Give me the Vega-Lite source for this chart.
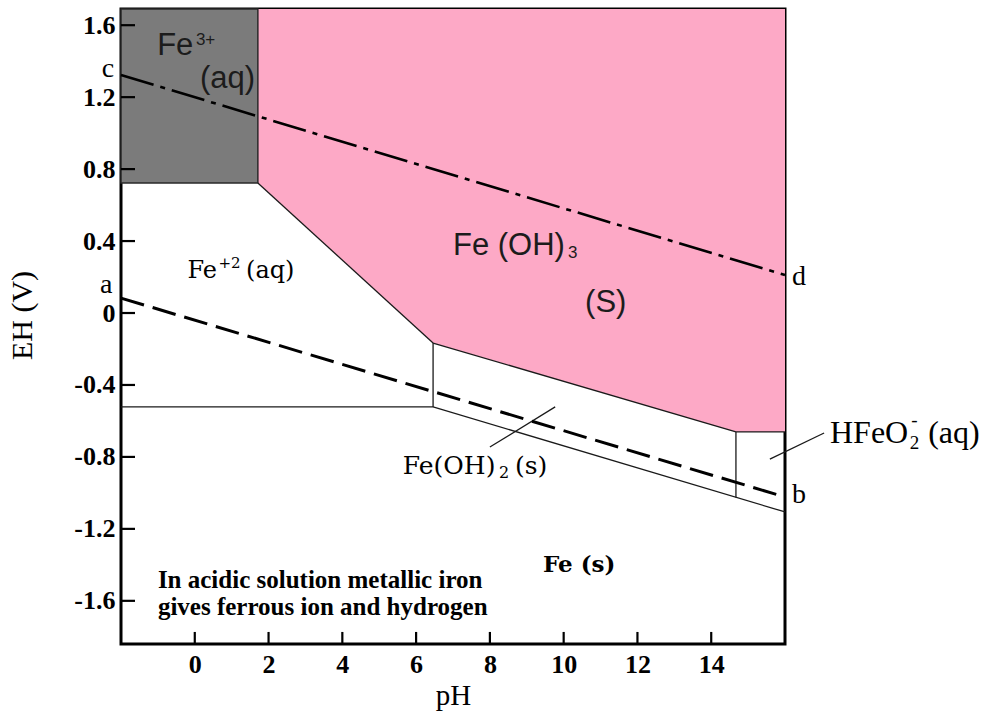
{
  "$schema": "https://vega.github.io/schema/vega-lite/v6.json",
  "width": 664,
  "height": 635,
  "autosize": {"type": "none"},
  "padding": {"left": 121, "top": 9, "right": 199, "bottom": 72},
  "background": "white",
  "config": {
    "view": {"stroke": "black", "strokeWidth": 3},
    "axis": {"titleColor": "black", "labelColor": "black", "tickColor": "black"}
  },
  "datasets": {
    "feoh3": [
      {"ph": 1.71, "top": 1.69, "bottom": 0.723},
      {"ph": 6.46, "top": 1.69, "bottom": -0.167},
      {"ph": 14.67, "top": 1.69, "bottom": -0.661},
      {"ph": 16, "top": 1.69, "bottom": -0.661}
    ],
    "fe3": [{"ph0": -2, "ph1": 1.71, "e0": 0.723, "e1": 1.69}],
    "boundaries": [
      {"ph0": 1.71, "e0": 0.723, "ph1": 6.46, "e1": -0.167},
      {"ph0": 6.46, "e0": -0.167, "ph1": 14.67, "e1": -0.661},
      {"ph0": 14.67, "e0": -0.661, "ph1": 16, "e1": -0.661},
      {"ph0": -2, "e0": -0.522, "ph1": 6.46, "e1": -0.522},
      {"ph0": 6.46, "e0": -0.167, "ph1": 6.46, "e1": -0.522},
      {"ph0": 6.46, "e0": -0.522, "ph1": 16, "e1": -1.106},
      {"ph0": 14.67, "e0": -0.661, "ph1": 14.67, "e1": -1.025},
      {"ph0": 8.0, "e0": -0.745, "ph1": 9.77, "e1": -0.522},
      {"ph0": 15.59, "e0": -0.812, "ph1": 17.06, "e1": -0.667}
    ],
    "ticks": [
      {"ph0": 0, "ph1": 0, "e0": -1.84, "e1": -1.773},
      {"ph0": 2, "ph1": 2, "e0": -1.84, "e1": -1.773},
      {"ph0": 4, "ph1": 4, "e0": -1.84, "e1": -1.773},
      {"ph0": 6, "ph1": 6, "e0": -1.84, "e1": -1.773},
      {"ph0": 8, "ph1": 8, "e0": -1.84, "e1": -1.773},
      {"ph0": 10, "ph1": 10, "e0": -1.84, "e1": -1.773},
      {"ph0": 12, "ph1": 12, "e0": -1.84, "e1": -1.773},
      {"ph0": 14, "ph1": 14, "e0": -1.84, "e1": -1.773},
      {"ph0": -2, "ph1": -1.62, "e0": 1.6, "e1": 1.6},
      {"ph0": -2, "ph1": -1.62, "e0": 1.2, "e1": 1.2},
      {"ph0": -2, "ph1": -1.62, "e0": 0.8, "e1": 0.8},
      {"ph0": -2, "ph1": -1.62, "e0": 0.4, "e1": 0.4},
      {"ph0": -2, "ph1": -1.62, "e0": 0, "e1": 0},
      {"ph0": -2, "ph1": -1.62, "e0": -0.4, "e1": -0.4},
      {"ph0": -2, "ph1": -1.62, "e0": -0.8, "e1": -0.8},
      {"ph0": -2, "ph1": -1.62, "e0": -1.2, "e1": -1.2},
      {"ph0": -2, "ph1": -1.62, "e0": -1.6, "e1": -1.6}
    ],
    "lineA": [{"ph0": -2, "e0": 0.083, "ph1": 16, "e1": -1.023}],
    "lineC": [{"ph0": -2, "e0": 1.323, "ph1": 16, "e1": 0.211}],
    "sansBig": [
      {"label": "Fe", "ph": -1.02, "e": 1.434},
      {"label": "(aq)", "ph": 0.14, "e": 1.251},
      {"label": "Fe (OH)", "ph": 7.0, "e": 0.322},
      {"label": "(S)", "ph": 10.58, "e": 0.006}
    ],
    "sansSmall": [
      {"label": "3+", "ph": 0.03, "e": 1.49},
      {"label": "3", "ph": 10.12, "e": 0.306}
    ],
    "serifMid": [
      {"label": "Fe", "ph": -0.2, "e": 0.195},
      {"label": "(aq)", "ph": 1.39, "e": 0.195}
    ],
    "serifMidSup": [{"label": "+2", "ph": 0.64, "e": 0.25}],
    "serifOH2": [
      {"label": "Fe(OH)", "ph": 5.64, "e": -0.895},
      {"label": "(s)", "ph": 8.68, "e": -0.895}
    ],
    "serifOH2Sub": [{"label": "2", "ph": 8.25, "e": -0.917}],
    "feSolid": [{"label": "Fe (s)", "ph": 9.44, "e": -1.44}],
    "note": [
      {"label": "In acidic solution metallic iron", "ph": -1.0, "e": -1.526},
      {"label": "gives ferrous ion and hydrogen", "ph": -1.0, "e": -1.679}
    ],
    "hfeo2": [
      {"label": "HFeO", "ph": 17.22, "e": -0.7226},
      {"label": "(aq)", "ph": 19.88, "e": -0.7226}
    ],
    "hfeo2Small": [
      {"label": "2", "ph": 19.38, "e": -0.756},
      {"label": "-", "ph": 19.42, "e": -0.628}
    ],
    "letters": [
      {"label": "c", "ph": -2.52, "e": 1.312},
      {"label": "a", "ph": -2.57, "e": 0.111},
      {"label": "d", "ph": 16.19, "e": 0.156},
      {"label": "b", "ph": 16.19, "e": -1.056}
    ]
  },
  "layer": [
    {
      "data": {"name": "feoh3"},
      "mark": {"type": "area", "color": "#fda9c6", "opacity": 1},
      "encoding": {
        "x": {
          "field": "ph", "type": "quantitative",
          "scale": {"domain": [-2, 16], "nice": false, "zero": false},
          "axis": {
            "title": "pH",
            "values": [0, 2, 4, 6, 8, 10, 12, 14],
            "grid": false, "domain": false, "ticks": false,
            "labelFont": "Liberation Serif", "labelFontSize": 26, "labelFontWeight": "bold", "labelColor": "black",
            "labelPadding": 7,
            "titleFont": "Liberation Serif", "titleFontSize": 29, "titleFontWeight": "normal", "titleColor": "black",
            "titlePadding": 4
          }
        },
        "y": {
          "field": "bottom", "type": "quantitative",
          "scale": {"domain": [-1.84, 1.69], "nice": false, "zero": false},
          "axis": {
            "title": "EH (V)",
            "values": [-1.6, -1.2, -0.8, -0.4, 0, 0.4, 0.8, 1.2, 1.6],
            "labelExpr": "datum.value < 0 ? '-' + format(-datum.value, '.1f') : (datum.value == 0 ? '0' : format(datum.value, '.1f'))",
            "grid": false, "domain": false, "ticks": false,
            "labelFont": "Liberation Serif", "labelFontSize": 26, "labelFontWeight": "bold", "labelColor": "black",
            "labelPadding": 6,
            "titleFont": "Liberation Serif", "titleFontSize": 30, "titleFontWeight": "normal", "titleColor": "black",
            "titlePadding": 36,
            "titleY": 306
          }
        },
        "y2": {"field": "top"}
      }
    },
    {
      "data": {"name": "fe3"},
      "mark": {"type": "rect", "fill": "#7b7b7b", "stroke": "#2a2a2a", "strokeWidth": 1.5},
      "encoding": {
        "x": {"field": "ph0", "type": "quantitative", "scale": {"domain": [-2, 16], "nice": false, "zero": false}},
        "x2": {"field": "ph1"},
        "y": {"field": "e0", "type": "quantitative", "scale": {"domain": [-1.84, 1.69], "nice": false, "zero": false}},
        "y2": {"field": "e1"}
      }
    },
    {
      "data": {"name": "boundaries"},
      "mark": {"type": "rule", "color": "#1a1a1a", "strokeWidth": 1.3},
      "encoding": {
        "x": {"field": "ph0", "type": "quantitative", "scale": {"domain": [-2, 16], "nice": false, "zero": false}},
        "x2": {"field": "ph1"},
        "y": {"field": "e0", "type": "quantitative", "scale": {"domain": [-1.84, 1.69], "nice": false, "zero": false}},
        "y2": {"field": "e1"}
      }
    },
    {
      "data": {"name": "ticks"},
      "mark": {"type": "rule", "color": "black", "strokeWidth": 2.2},
      "encoding": {
        "x": {"field": "ph0", "type": "quantitative", "scale": {"domain": [-2, 16], "nice": false, "zero": false}},
        "x2": {"field": "ph1"},
        "y": {"field": "e0", "type": "quantitative", "scale": {"domain": [-1.84, 1.69], "nice": false, "zero": false}},
        "y2": {"field": "e1"}
      }
    },
    {
      "data": {"name": "lineA"},
      "mark": {"type": "rule", "color": "black", "strokeWidth": 3, "strokeDash": [24, 9]},
      "encoding": {
        "x": {"field": "ph0", "type": "quantitative", "scale": {"domain": [-2, 16], "nice": false, "zero": false}},
        "x2": {"field": "ph1"},
        "y": {"field": "e0", "type": "quantitative", "scale": {"domain": [-1.84, 1.69], "nice": false, "zero": false}},
        "y2": {"field": "e1"}
      }
    },
    {
      "data": {"name": "lineC"},
      "mark": {"type": "rule", "color": "black", "strokeWidth": 2.6, "strokeDash": [34, 7, 5, 7]},
      "encoding": {
        "x": {"field": "ph0", "type": "quantitative", "scale": {"domain": [-2, 16], "nice": false, "zero": false}},
        "x2": {"field": "ph1"},
        "y": {"field": "e0", "type": "quantitative", "scale": {"domain": [-1.84, 1.69], "nice": false, "zero": false}},
        "y2": {"field": "e1"}
      }
    },
    {
      "data": {"name": "sansBig"},
      "mark": {"type": "text", "font": "Liberation Sans", "fontSize": 31, "color": "#1c1c1c", "align": "left", "baseline": "alphabetic"},
      "encoding": {
        "x": {"field": "ph", "type": "quantitative", "scale": {"domain": [-2, 16], "nice": false, "zero": false}},
        "y": {"field": "e", "type": "quantitative", "scale": {"domain": [-1.84, 1.69], "nice": false, "zero": false}},
        "text": {"field": "label"}
      }
    },
    {
      "data": {"name": "sansSmall"},
      "mark": {"type": "text", "font": "Liberation Sans", "fontSize": 17, "color": "#1c1c1c", "align": "left", "baseline": "alphabetic"},
      "encoding": {
        "x": {"field": "ph", "type": "quantitative", "scale": {"domain": [-2, 16], "nice": false, "zero": false}},
        "y": {"field": "e", "type": "quantitative", "scale": {"domain": [-1.84, 1.69], "nice": false, "zero": false}},
        "text": {"field": "label"}
      }
    },
    {
      "data": {"name": "serifMid"},
      "mark": {"type": "text", "font": "DejaVu Serif", "fontSize": 24, "color": "black", "align": "left", "baseline": "alphabetic"},
      "encoding": {
        "x": {"field": "ph", "type": "quantitative", "scale": {"domain": [-2, 16], "nice": false, "zero": false}},
        "y": {"field": "e", "type": "quantitative", "scale": {"domain": [-1.84, 1.69], "nice": false, "zero": false}},
        "text": {"field": "label"}
      }
    },
    {
      "data": {"name": "serifMidSup"},
      "mark": {"type": "text", "font": "DejaVu Serif", "fontSize": 15, "color": "black", "align": "left", "baseline": "alphabetic"},
      "encoding": {
        "x": {"field": "ph", "type": "quantitative", "scale": {"domain": [-2, 16], "nice": false, "zero": false}},
        "y": {"field": "e", "type": "quantitative", "scale": {"domain": [-1.84, 1.69], "nice": false, "zero": false}},
        "text": {"field": "label"}
      }
    },
    {
      "data": {"name": "serifOH2"},
      "mark": {"type": "text", "font": "DejaVu Serif", "fontSize": 25, "color": "black", "align": "left", "baseline": "alphabetic"},
      "encoding": {
        "x": {"field": "ph", "type": "quantitative", "scale": {"domain": [-2, 16], "nice": false, "zero": false}},
        "y": {"field": "e", "type": "quantitative", "scale": {"domain": [-1.84, 1.69], "nice": false, "zero": false}},
        "text": {"field": "label"}
      }
    },
    {
      "data": {"name": "serifOH2Sub"},
      "mark": {"type": "text", "font": "DejaVu Serif", "fontSize": 16, "color": "black", "align": "left", "baseline": "alphabetic"},
      "encoding": {
        "x": {"field": "ph", "type": "quantitative", "scale": {"domain": [-2, 16], "nice": false, "zero": false}},
        "y": {"field": "e", "type": "quantitative", "scale": {"domain": [-1.84, 1.69], "nice": false, "zero": false}},
        "text": {"field": "label"}
      }
    },
    {
      "data": {"name": "feSolid"},
      "mark": {"type": "text", "font": "DejaVu Serif", "fontSize": 23, "fontWeight": "bold", "color": "black", "align": "left", "baseline": "alphabetic"},
      "encoding": {
        "x": {"field": "ph", "type": "quantitative", "scale": {"domain": [-2, 16], "nice": false, "zero": false}},
        "y": {"field": "e", "type": "quantitative", "scale": {"domain": [-1.84, 1.69], "nice": false, "zero": false}},
        "text": {"field": "label"}
      }
    },
    {
      "data": {"name": "note"},
      "mark": {"type": "text", "font": "Liberation Serif", "fontSize": 25, "fontWeight": "bold", "color": "black", "align": "left", "baseline": "alphabetic"},
      "encoding": {
        "x": {"field": "ph", "type": "quantitative", "scale": {"domain": [-2, 16], "nice": false, "zero": false}},
        "y": {"field": "e", "type": "quantitative", "scale": {"domain": [-1.84, 1.69], "nice": false, "zero": false}},
        "text": {"field": "label"}
      }
    },
    {
      "data": {"name": "hfeo2"},
      "mark": {"type": "text", "font": "Liberation Serif", "fontSize": 32, "color": "black", "align": "left", "baseline": "alphabetic"},
      "encoding": {
        "x": {"field": "ph", "type": "quantitative", "scale": {"domain": [-2, 16], "nice": false, "zero": false}},
        "y": {"field": "e", "type": "quantitative", "scale": {"domain": [-1.84, 1.69], "nice": false, "zero": false}},
        "text": {"field": "label"}
      }
    },
    {
      "data": {"name": "hfeo2Small"},
      "mark": {"type": "text", "font": "Liberation Serif", "fontSize": 19, "color": "black", "align": "left", "baseline": "alphabetic"},
      "encoding": {
        "x": {"field": "ph", "type": "quantitative", "scale": {"domain": [-2, 16], "nice": false, "zero": false}},
        "y": {"field": "e", "type": "quantitative", "scale": {"domain": [-1.84, 1.69], "nice": false, "zero": false}},
        "text": {"field": "label"}
      }
    },
    {
      "data": {"name": "letters"},
      "mark": {"type": "text", "font": "Liberation Serif", "fontSize": 28, "color": "black", "align": "left", "baseline": "alphabetic"},
      "encoding": {
        "x": {"field": "ph", "type": "quantitative", "scale": {"domain": [-2, 16], "nice": false, "zero": false}},
        "y": {"field": "e", "type": "quantitative", "scale": {"domain": [-1.84, 1.69], "nice": false, "zero": false}},
        "text": {"field": "label"}
      }
    }
  ]
}
